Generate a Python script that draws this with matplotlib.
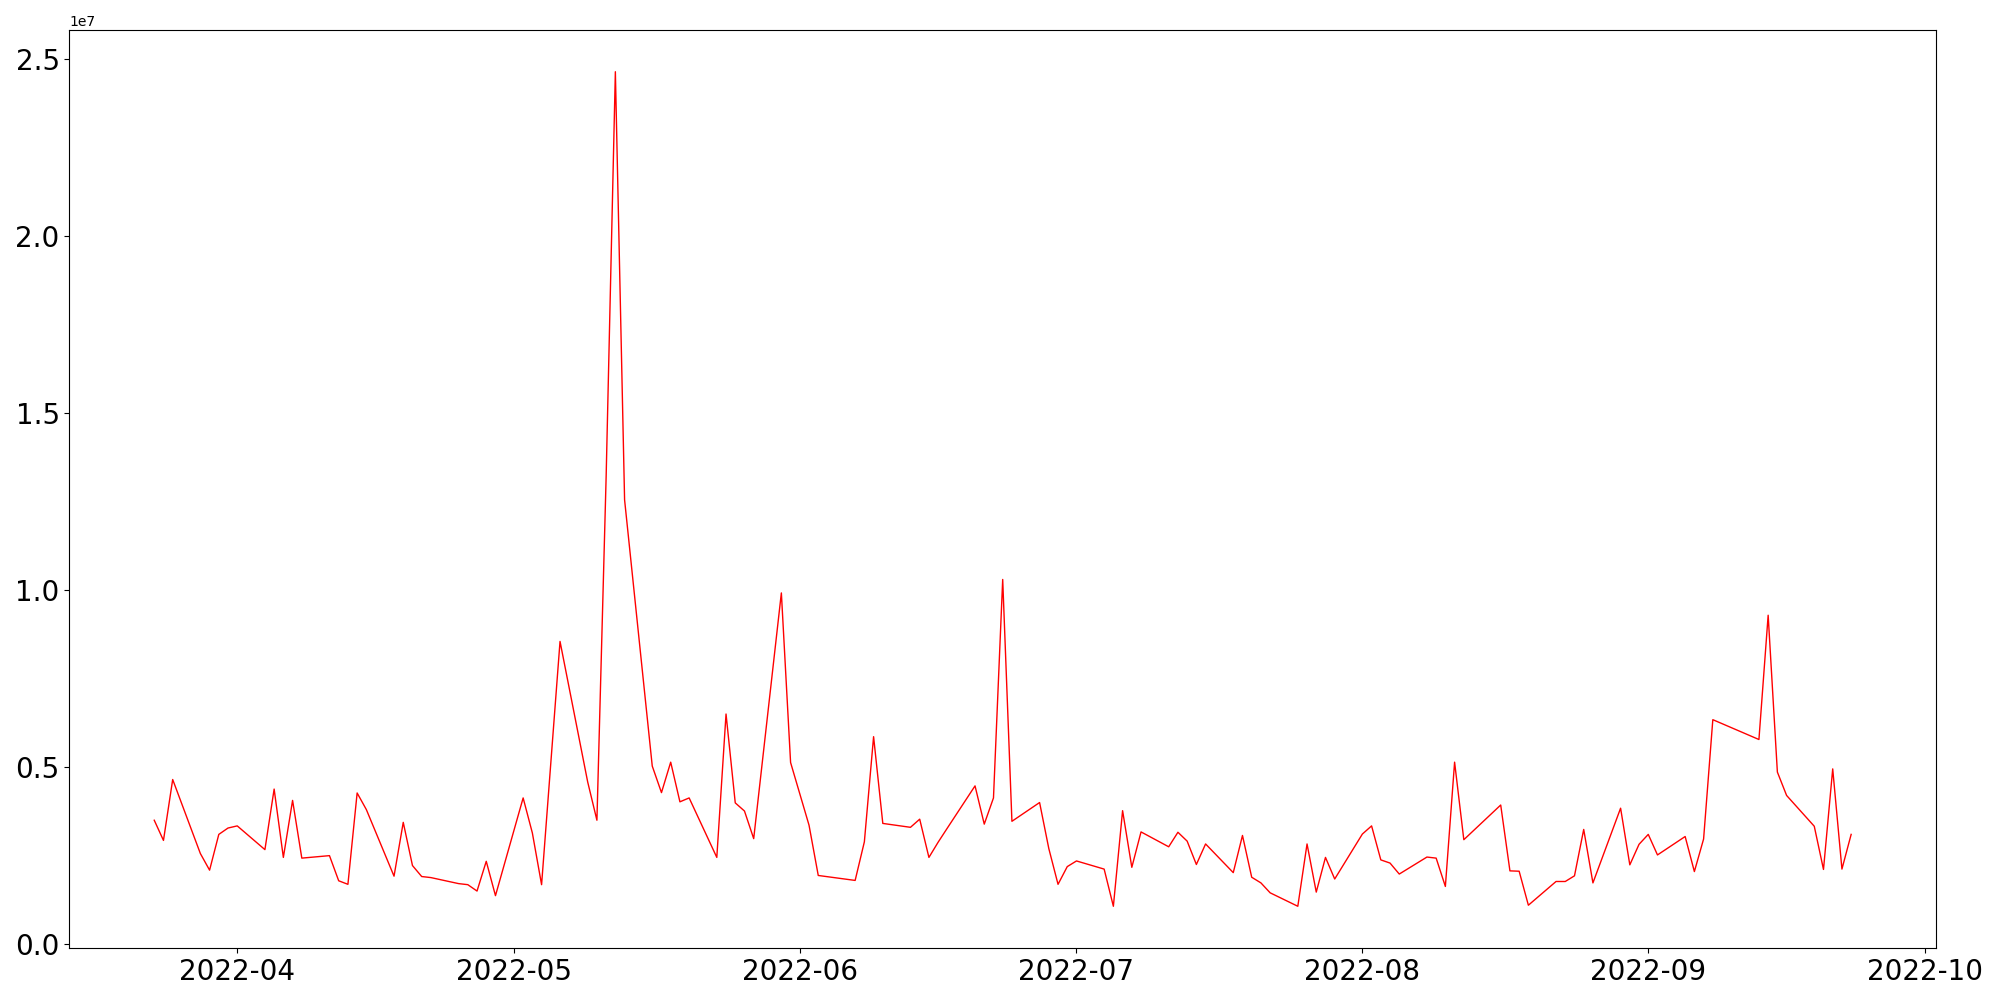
import numpy as np
import pandas as pd
import matplotlib
matplotlib.use('Agg')
import matplotlib.pyplot as plt

# fechas de negociacion (sin fines de semana ni festivos)
dates = ['2022-03-23', '2022-03-24', '2022-03-25', '2022-03-28', '2022-03-29', '2022-03-30', '2022-03-31',
         '2022-04-01', '2022-04-04', '2022-04-05', '2022-04-06', '2022-04-07', '2022-04-08',
         '2022-04-11', '2022-04-12', '2022-04-13', '2022-04-14', '2022-04-15',
         '2022-04-18', '2022-04-19', '2022-04-20', '2022-04-21', '2022-04-22',
         '2022-04-25', '2022-04-26', '2022-04-27', '2022-04-28', '2022-04-29',
         '2022-05-02', '2022-05-03', '2022-05-04', '2022-05-06',
         '2022-05-09', '2022-05-10', '2022-05-11', '2022-05-12', '2022-05-13',
         '2022-05-16', '2022-05-17', '2022-05-18', '2022-05-19', '2022-05-20',
         '2022-05-23', '2022-05-24', '2022-05-25', '2022-05-26', '2022-05-27',
         '2022-05-30', '2022-05-31', '2022-06-02', '2022-06-03',
         '2022-06-07', '2022-06-08', '2022-06-09', '2022-06-10',
         '2022-06-13', '2022-06-14', '2022-06-15', '2022-06-16', '2022-06-17',
         '2022-06-20', '2022-06-21', '2022-06-22', '2022-06-23', '2022-06-24',
         '2022-06-27', '2022-06-28', '2022-06-29', '2022-06-30', '2022-07-01',
         '2022-07-04', '2022-07-05', '2022-07-06', '2022-07-07', '2022-07-08',
         '2022-07-11', '2022-07-12', '2022-07-13', '2022-07-14', '2022-07-15',
         '2022-07-18', '2022-07-19', '2022-07-20', '2022-07-21', '2022-07-22',
         '2022-07-25', '2022-07-26', '2022-07-27', '2022-07-28', '2022-07-29',
         '2022-08-01', '2022-08-02', '2022-08-03', '2022-08-04', '2022-08-05',
         '2022-08-08', '2022-08-09', '2022-08-10', '2022-08-11', '2022-08-12',
         '2022-08-16', '2022-08-17', '2022-08-18', '2022-08-19',
         '2022-08-22', '2022-08-23', '2022-08-24', '2022-08-25', '2022-08-26',
         '2022-08-29', '2022-08-30', '2022-08-31', '2022-09-01', '2022-09-02',
         '2022-09-05', '2022-09-06', '2022-09-07', '2022-09-08',
         '2022-09-13', '2022-09-14', '2022-09-15', '2022-09-16',
         '2022-09-19', '2022-09-20', '2022-09-21', '2022-09-22', '2022-09-23']

# volumen en millones
volume_m = [3.50, 2.93, 4.65, 2.56, 2.09, 3.10, 3.28,
            3.34, 2.67, 4.38, 2.45, 4.06, 2.43,
            2.50, 1.79, 1.69, 4.27, 3.80,
            1.92, 3.44, 2.22, 1.91, 1.88,
            1.71, 1.68, 1.50, 2.34, 1.37,
            4.13, 3.14, 1.68, 8.55,
            4.58, 3.50, 13.2, 24.64, 12.55,
            5.03, 4.28, 5.14, 4.02, 4.13,
            2.45, 6.50, 3.99, 3.76, 2.98,
            9.92, 5.13, 3.36, 1.94,
            1.80, 2.89, 5.86, 3.41,
            3.30, 3.53, 2.45, 2.88, 3.28,
            4.47, 3.39, 4.13, 10.30, 3.47,
            4.00, 2.70, 1.69, 2.19, 2.35,
            2.12, 1.07, 3.77, 2.17, 3.17,
            2.75, 3.16, 2.91, 2.25, 2.83,
            2.02, 3.07, 1.89, 1.73, 1.45,
            1.07, 2.83, 1.47, 2.45, 1.84,
            3.11, 3.34, 2.38, 2.29, 1.98,
            2.46, 2.43, 1.63, 5.14, 2.95,
            3.93, 2.07, 2.06, 1.10,
            1.77, 1.77, 1.93, 3.24, 1.73,
            3.84, 2.24, 2.82, 3.10, 2.52,
            3.04, 2.05, 2.97, 6.34,
            5.78, 9.29, 4.86, 4.20,
            3.33, 2.11, 4.95, 2.12, 3.10]

x = pd.to_datetime(dates)
y = np.array(volume_m) * 1e6

fig, ax = plt.subplots(figsize=(20, 10), dpi=100)
ax.plot(x, y, color='red', linewidth=1)

ax.tick_params(axis='both', labelsize=20)

plt.subplots_adjust(left=0.0347, right=0.968, bottom=0.052, top=0.97)
plt.savefig('out.png', dpi=100)
